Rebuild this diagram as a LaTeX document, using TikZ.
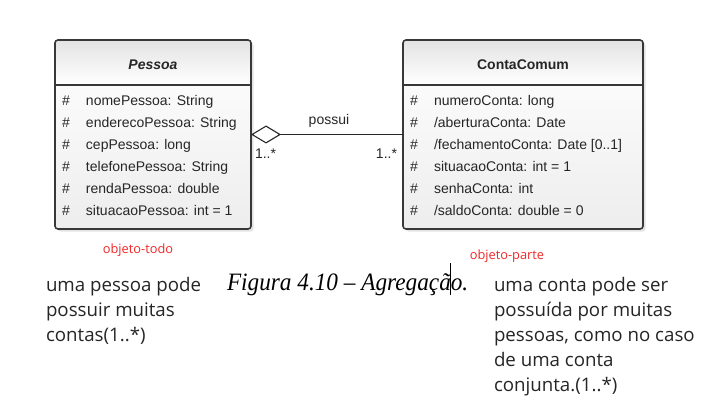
\documentclass[tikz,border=0pt]{standalone}
\usepackage{fontspec}
\usepackage{xcolor}
\usepackage{tikz}
\newfontfamily\umlfont{Liberation Sans}
\newfontfamily\notefont{Open Sans}
\newfontfamily\capfont[FakeStretch=0.93]{Liberation Serif}
\definecolor{umlborder}{HTML}{383838}
\definecolor{rolered}{HTML}{F02828}
\newcommand\hash{\makebox[24pt][l]{\#}}
\newcommand\textcursor{\makebox[0pt]{\rule[-5pt]{1pt}{32pt}}}
\usetikzlibrary{positioning,arrows.meta,shadows}

\begin{document}
\begin{tikzpicture}[x=1pt, y=-1pt, outer sep=0pt,
    classframe/.style={rectangle, rounded corners=3pt, minimum height=189pt, top color=white, bottom color=gray!14, drop shadow={shadow xshift=2.5pt, shadow yshift=-2.5pt, opacity=0.22}},
    classhead/.style={rectangle, rounded corners=3pt, minimum height=45pt, text height=15pt, top color=gray!22, bottom color=white, text=black!85, font=\umlfont\fontsize{14}{17}\selectfont\bfseries},
    classattr/.style={align=left, inner sep=0pt, text=black!85, font=\umlfont\fontsize{14}{22}\selectfont},
    classborder/.style={draw=umlborder, line width=1.6pt, rounded corners=3pt},
    classsep/.style={draw=umlborder, line width=1.4pt},
    aggregation/.style={draw=black!85, line width=1.1pt, -{Diamond[open, fill=white, length=30pt, width=18pt, line width=1.1pt]}},
    assoclabel/.style={inner sep=0pt, text=black!85, font=\umlfont\fontsize{14}{17}\selectfont},
    rolelabel/.style={inner sep=0pt, text=rolered, font=\notefont\fontsize{12.8}{15}\selectfont},
    note/.style={align=left, inner sep=0pt, text=black!85, font=\notefont\fontsize{18.7}{25}\selectfont},
    caption/.style={inner sep=0pt, text=black, font=\capfont\itshape\fontsize{25}{30}\selectfont}]
    \useasboundingbox[fill=white] (0,0) rectangle (712,417);

    % classe Pessoa
    \node [classframe, minimum width=196pt] (PessoaBox) at (153,134.5) {};
    \node [classhead, minimum width=196pt, below=0pt of PessoaBox.north] (PessoaHead) {\textit{Pessoa}};
    \node [classattr, below right=10.5pt and 7pt of PessoaHead.south west] (PessoaAttr) {\hash nomePessoa: String\\ \hash enderecoPessoa: String\\ \hash cepPessoa: long\\ \hash telefonePessoa: String\\ \hash rendaPessoa: double\\ \hash situacaoPessoa: int = 1};
    \draw [classsep] (PessoaHead.south west) -- (PessoaHead.south east);
    \draw [classborder] (PessoaBox.north west) rectangle (PessoaBox.south east);

    % classe ContaComum
    \node [classframe, minimum width=240pt] (ContaBox) at (523,134.5) {};
    \node [classhead, minimum width=240pt, below=0pt of ContaBox.north] (ContaHead) {ContaComum};
    \node [classattr, below right=10.5pt and 7pt of ContaHead.south west] (ContaAttr) {\hash numeroConta: long\\ \hash /aberturaConta: Date\\ \hash /fechamentoConta: Date [0..1]\\ \hash situacaoConta: int = 1\\ \hash senhaConta: int\\ \hash /saldoConta: double = 0};
    \draw [classsep] (ContaHead.south west) -- (ContaHead.south east);
    \draw [classborder] (ContaBox.north west) rectangle (ContaBox.south east);

    % agregacao
    \draw [aggregation] (ContaBox.west) -- (PessoaBox.east) node [assoclabel, pos=0.487, above=7pt] (Possui) {possui};
    \node [assoclabel, below right=14pt and 4pt of PessoaBox.east] (PessoaMult) {1..*};
    \node [assoclabel, below left=14pt and 6pt of ContaBox.west] (ContaMult) {1..*};

    \node [rolelabel, below=15pt of PessoaBox.south, xshift=-15pt] (PessoaRole) {objeto-todo};
    \node [rolelabel, below=21pt of ContaBox.south, xshift=-16pt] (ContaRole) {objeto-parte};

    % textos
    \node [caption, anchor=base west] (Caption) at (227,290) {Figura 4.10 – Agregaçã\textcursor o.};
    \node [note, anchor=base west] (PessoaNote) at (46,341) {uma pessoa pode\\ possuir muitas\\ contas(1..*)};
    \node [note, anchor=base west] (ContaNote) at (494,391) {uma conta pode ser\\ possuída por muitas\\ pessoas, como no caso\\ de uma conta\\ conjunta.(1..*)};
\end{tikzpicture}
\end{document}
